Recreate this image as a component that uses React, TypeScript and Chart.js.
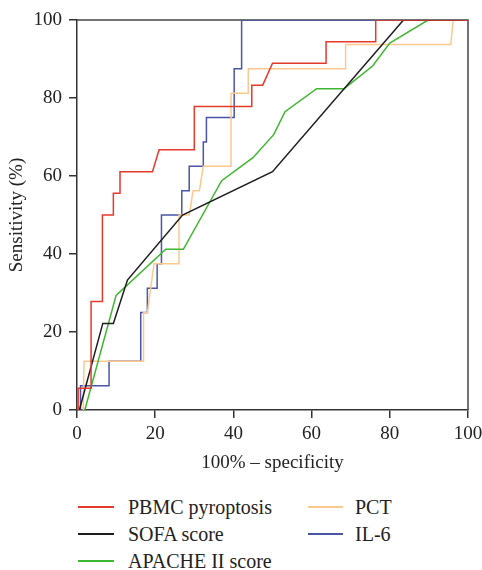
import React, { useEffect, useRef } from "react";
import { Chart, registerables } from "chart.js";

Chart.register(...registerables);

const xTicks = [0, 20, 40, 60, 80, 100];
const yTicks = [0, 20, 40, 60, 80, 100];

const seriesNames = ["PBMC pyroptosis", "SOFA score", "APACHE II score", "PCT", "IL-6"];
const seriesColors = ["#e5392c", "#1c1c1c", "#3fb62f", "#fdc88e", "#4a55a8"];

const pbmcX = [0.3, 0.3, 3.6, 3.6, 6.5, 6.5, 9.3, 9.3, 11, 11, 19.3, 21, 30, 30, 44.7, 44.7, 47.5, 50, 63.7, 63.7, 76.4, 76.4, 100];
const pbmcY = [0, 5.6, 5.6, 27.8, 27.8, 50, 50, 55.6, 55.6, 61.1, 61.1, 66.7, 66.7, 77.8, 77.8, 83.3, 83.3, 88.9, 88.9, 94.4, 94.4, 100, 100];

const sofaX = [0.6, 6.6, 9.3, 12.9, 27, 50, 83.5, 100];
const sofaY = [0, 22.2, 22.2, 33.3, 50, 61.1, 100, 100];

const apacheX = [2, 10, 22.7, 27.2, 37, 45, 50.3, 53.2, 61.3, 68.3, 75.6, 80, 89.8, 100];
const apacheY = [0, 29.4, 41.2, 41.2, 58.8, 64.7, 70.6, 76.5, 82.4, 82.4, 88.2, 94.1, 100, 100];

const pctX = [1.6, 1.8, 17, 17, 18, 19.7, 26.1, 26.1, 28.7, 29.7, 31.3, 32.3, 39.4, 39.4, 43.8, 43.8, 68.7, 68.7, 95.6, 96.2, 100];
const pctY = [0, 12.5, 12.5, 25, 25, 37.5, 37.5, 50, 50, 56.25, 56.25, 62.5, 62.5, 81.25, 81.25, 87.5, 87.5, 93.75, 93.75, 100, 100];

const il6X = [0.9, 0.9, 8.2, 8.2, 16.3, 16.3, 18, 18, 20.5, 20.5, 21.6, 21.6, 26.8, 26.8, 28.7, 28.7, 32.3, 32.3, 33.1, 33.1, 40.2, 40.2, 42.1, 42.1, 100];
const il6Y = [0, 6.25, 6.25, 12.5, 12.5, 25, 25, 31.25, 31.25, 37.5, 37.5, 50, 50, 56.25, 56.25, 62.5, 62.5, 68.75, 68.75, 75, 75, 87.5, 87.5, 100, 100];

const seriesX = [pbmcX, sofaX, apacheX, pctX, il6X];
const seriesY = [pbmcY, sofaY, apacheY, pctY, il6Y];

const FONT = "'Liberation Serif', 'Times New Roman', serif";

const framePlugin = {
  id: "frame",
  beforeDatasetsDraw(chart: any) {
    const { ctx, chartArea } = chart;
    ctx.save();
    ctx.strokeStyle = "#444";
    ctx.lineWidth = 1.5;
    ctx.beginPath();
    ctx.moveTo(chartArea.left, chartArea.top);
    ctx.lineTo(chartArea.right, chartArea.top);
    ctx.lineTo(chartArea.right, chartArea.bottom);
    ctx.stroke();
    ctx.restore();
  },
};

export default function App() {
  const ref = useRef<HTMLCanvasElement | null>(null);

  useEffect(() => {
    if (!ref.current) return;
    const datasets = seriesNames.map((name, i) => ({
      label: name,
      data: seriesX[i].map((x, j) => ({ x, y: seriesY[i][j] })),
      borderColor: seriesColors[i],
      backgroundColor: seriesColors[i],
      borderWidth: 1.5,
      pointRadius: 0,
      tension: 0,
      fill: false,
    }));
    const chart = new Chart(ref.current, {
      type: "line",
      data: { datasets },
      plugins: [framePlugin],
      options: {
        responsive: false,
        animation: false,
        devicePixelRatio: 1,
        layout: { padding: { top: 20, right: 14, left: 0, bottom: 0 } },
        plugins: { legend: { display: false }, tooltip: { enabled: false } },
        scales: {
          x: {
            type: "linear",
            min: 0,
            max: 100,
            afterBuildTicks: (s: any) => {
              s.ticks = xTicks.map((v) => ({ value: v }));
            },
            afterFit: (s: any) => {
              s.height = 70;
              s.paddingLeft = 0;
              s.paddingRight = 0;
            },
            ticks: { color: "#222", font: { family: FONT, size: 19 }, padding: 5, maxRotation: 0 },
            grid: { drawOnChartArea: false, drawTicks: true, tickLength: 8, color: "#333", lineWidth: 1.5 },
            border: { color: "#333", width: 1.5 },
            title: {
              display: true,
              text: "100% – specificity",
              color: "#222",
              font: { family: FONT, size: 19 },
              padding: { top: 0, bottom: 6 },
            },
          },
          y: {
            type: "linear",
            min: 0,
            max: 100,
            afterBuildTicks: (s: any) => {
              s.ticks = yTicks.map((v) => ({ value: v }));
            },
            afterFit: (s: any) => {
              s.width = 77;
              s.paddingTop = 0;
              s.paddingBottom = 0;
            },
            ticks: { color: "#222", font: { family: FONT, size: 19 }, padding: 7 },
            grid: { drawOnChartArea: false, drawTicks: true, tickLength: 8, color: "#333", lineWidth: 1.5 },
            border: { color: "#333", width: 1.5 },
            title: {
              display: true,
              text: "Sensitivity (%)",
              color: "#222",
              font: { family: FONT, size: 19 },
              padding: { top: 6, bottom: 0 },
            },
          },
        },
      },
    });
    return () => chart.destroy();
  }, []);

  const colX = [78, 308];
  const textOffset = [50, 47];
  const lineW = [36, 35];

  return (
    <div style={{ position: "absolute", left: 0, top: 0, width: 482, height: 570, background: "#fff", overflow: "hidden" }}>
      <canvas ref={ref} width={482} height={480} style={{ position: "absolute", left: 0, top: 0, width: 482, height: 480 }} />
      {seriesNames.map((name, i) => {
        const col = i < 3 ? 0 : 1;
        const row = i < 3 ? i : i - 3;
        const cy = 507 + row * 27;
        return (
          <div key={name} style={{ position: "absolute", left: colX[col], top: cy - 13, height: 26, display: "flex", alignItems: "center" }}>
            <span style={{ display: "inline-block", width: lineW[col], height: 1.5, background: seriesColors[i] }} />
            <span
              style={{
                position: "absolute",
                left: textOffset[col],
                top: 0,
                lineHeight: "26px",
                whiteSpace: "nowrap",
                fontFamily: FONT,
                fontSize: 20,
                color: "#222",
              }}
            >
              {name}
            </span>
          </div>
        );
      })}
    </div>
  );
}
